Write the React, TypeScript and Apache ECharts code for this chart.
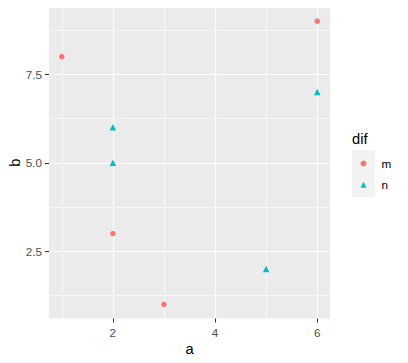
import React, { useEffect, useRef } from "react";
import * as echarts from "echarts";

const mA = [1, 2, 3, 6];
const mB = [8, 3, 1, 9];
const nA = [2, 2, 5, 6];
const nB = [6, 5, 2, 7];
const xMajor = [2, 4, 6];
const xMinor = [1, 3, 5];
const yMajor = [2.5, 5, 7.5];
const yMinor = [1.25, 3.75, 6.25, 8.75];
const groups = ["m", "n"];

const FONT = "Liberation Sans";

export default function App() {
  const ref = useRef<HTMLDivElement>(null);
  useEffect(() => {
    const chart = echarts.init(ref.current!, null, { renderer: "svg" });
    const left = 49, top = 7, width = 281, height = 311.5;
    const labelStyle = { color: "#4D4D4D", fontSize: 11.7, fontFamily: FONT };
    chart.setOption({
      animation: false,
      backgroundColor: "#FFFFFF",
      grid: {
        left, top, width, height, backgroundColor: "#EBEBEB", show: true, borderWidth: 0,
        containLabel: false, outerBoundsMode: "none",
      },
      xAxis: [
        {
          type: "value", min: 0.75, max: 6.25, position: "bottom",
          name: "a", nameLocation: "middle", nameGap: 23, nameMoveOverlap: false,
          nameTextStyle: { color: "#000", fontSize: 14.7, fontFamily: FONT },
          axisLine: { show: false },
          axisTick: { show: true, length: 4, lineStyle: { color: "#333333", width: 1 }, customValues: xMajor },
          axisLabel: { ...labelStyle, margin: 8, customValues: xMajor, formatter: (v: number) => String(v) },
          splitLine: { show: true, lineStyle: { color: "#FFFFFF", width: 1.2 } },
        },
        {
          type: "value", min: 0.75, max: 6.25, position: "bottom",
          axisLine: { show: false },
          axisTick: { show: false, customValues: xMinor },
          axisLabel: { show: false, customValues: xMinor },
          splitLine: { show: true, lineStyle: { color: "#FFFFFF", width: 0.7 } },
        },
      ],
      yAxis: [
        {
          type: "value", min: 0.6, max: 9.4, position: "left",
          name: "b", nameLocation: "middle", nameGap: 27, nameRotate: 90, nameMoveOverlap: false,
          nameTextStyle: { color: "#000", fontSize: 14.7, fontFamily: FONT },
          axisLine: { show: false },
          axisTick: { show: true, length: 4, lineStyle: { color: "#333333", width: 1 }, customValues: yMajor },
          axisLabel: { ...labelStyle, margin: 7, customValues: yMajor, formatter: (v: number) => v.toFixed(1) },
          splitLine: { show: true, lineStyle: { color: "#FFFFFF", width: 1.2 } },
        },
        {
          type: "value", min: 0.6, max: 9.4, position: "left",
          axisLine: { show: false },
          axisTick: { show: false, customValues: yMinor },
          axisLabel: { show: false, customValues: yMinor },
          splitLine: { show: true, lineStyle: { color: "#FFFFFF", width: 0.7 } },
        },
      ],
      legend: {
        orient: "vertical",
        left: 360.5,
        top: 157.5,
        padding: 0,
        itemWidth: 6,
        itemHeight: 6,
        itemGap: 9.2,
        data: [
          { name: groups[0], icon: "circle" },
          { name: groups[1], icon: "triangle" },
        ],
        textStyle: { color: "#000000", fontSize: 11.7, fontFamily: FONT, padding: [0, 0, 0, 10] },
      },
      graphic: [
        { type: "rect", left: 352, top: 150, z: -1, shape: { width: 23, height: 47 }, style: { fill: "#F2F2F2" } },
        { type: "text", left: 352, top: 131, style: { text: "dif", fill: "#000", fontSize: 14.7, fontFamily: FONT } },
      ],
      series: [
        {
          name: groups[0], type: "scatter", xAxisIndex: 0, yAxisIndex: 0,
          symbol: "circle", symbolSize: 5.5,
          itemStyle: { color: "#F8766D", opacity: 1 },
          data: mA.map((a, i) => [a, mB[i]]),
        },
        {
          name: groups[1], type: "scatter", xAxisIndex: 0, yAxisIndex: 0,
          symbol: "triangle", symbolSize: 6.5,
          itemStyle: { color: "#00BFC4", opacity: 1 },
          data: nA.map((a, i) => [a, nB[i]]),
        },
      ],
    });
    return () => chart.dispose();
  }, []);
  return <div ref={ref} style={{ width: 408, height: 363, margin: -8 }} />;
}
